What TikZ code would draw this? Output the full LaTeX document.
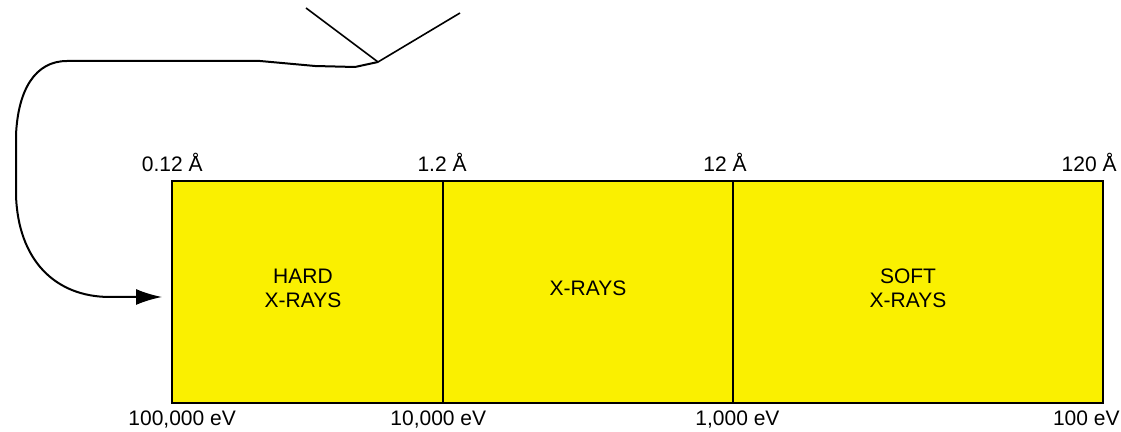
\documentclass[tikz,border=0pt]{standalone}
\usepackage{fontspec}
\setmainfont{Liberation Sans}
\usepackage{xcolor}
\usetikzlibrary{positioning, arrows.meta}
\definecolor{xyellow}{RGB}{250,240,0}

\begin{document}
\begin{tikzpicture}[x=0.5pt,y=-0.5pt,>={Latex[length=13pt,width=8pt]},
        band/.style={draw, line width=1pt, fill=xyellow, minimum height=111pt, inner sep=0pt},
        lbl/.style={font=\fontsize{10.5}{12}\selectfont, inner sep=0pt, align=center}]
        \useasboundingbox (0,0) rectangle (1121,432);

        % Bands
        \node (hard) [band, minimum width=135.5pt] at (307.5,292) {};
        \node (mid) [band, minimum width=145pt] at (588,292) {};
        \node (soft) [band, minimum width=185pt] at (918,292) {};

        % Band names
        \node (hardtxt) [lbl] at (303,288) {HARD\\X-RAYS};
        \node (midtxt) [lbl] at (588,288) {X-RAYS};
        \node (softtxt) [lbl] at (908,288) {SOFT\\X-RAYS};

        % Wavelengths
        \node (w1) [lbl, anchor=base east] at (203,172) {0.12 Å};
        \node (w2) [lbl, anchor=base east] at (467,172) {1.2 Å};
        \node (w3) [lbl, anchor=base east] at (747,172) {12 Å};
        \node (w4) [lbl, anchor=base east] at (1117,172) {120 Å};

        % Energies
        \node (e1) [lbl, anchor=base west] at (128,426) {100,000 eV};
        \node (e2) [lbl, anchor=base west] at (390,426) {10,000 eV};
        \node (e3) [lbl, anchor=base west] at (695,426) {1,000 eV};
        \node (e4) [lbl, anchor=base east] at (1120,426) {100 eV};

        % Beam
        \coordinate (apex) at (378,62);
        \coordinate (vleft) at (306,8);
        \coordinate (vright) at (460,13);
        \draw[line width=0.8pt] (vleft) -- (apex) -- (vright);
        \draw[->, line width=1pt, shorten >=4.5pt] (apex) -- (355,67) -- (315,66) -- (260,61) -- (67,61)
            .. controls (35,61) and (18,90) .. (16,135) -- (16,195)
            .. controls (18,260) and (55,297) .. (110,297) -- ([yshift=-2.5pt]hard.west);
    \end{tikzpicture}
\end{document}
